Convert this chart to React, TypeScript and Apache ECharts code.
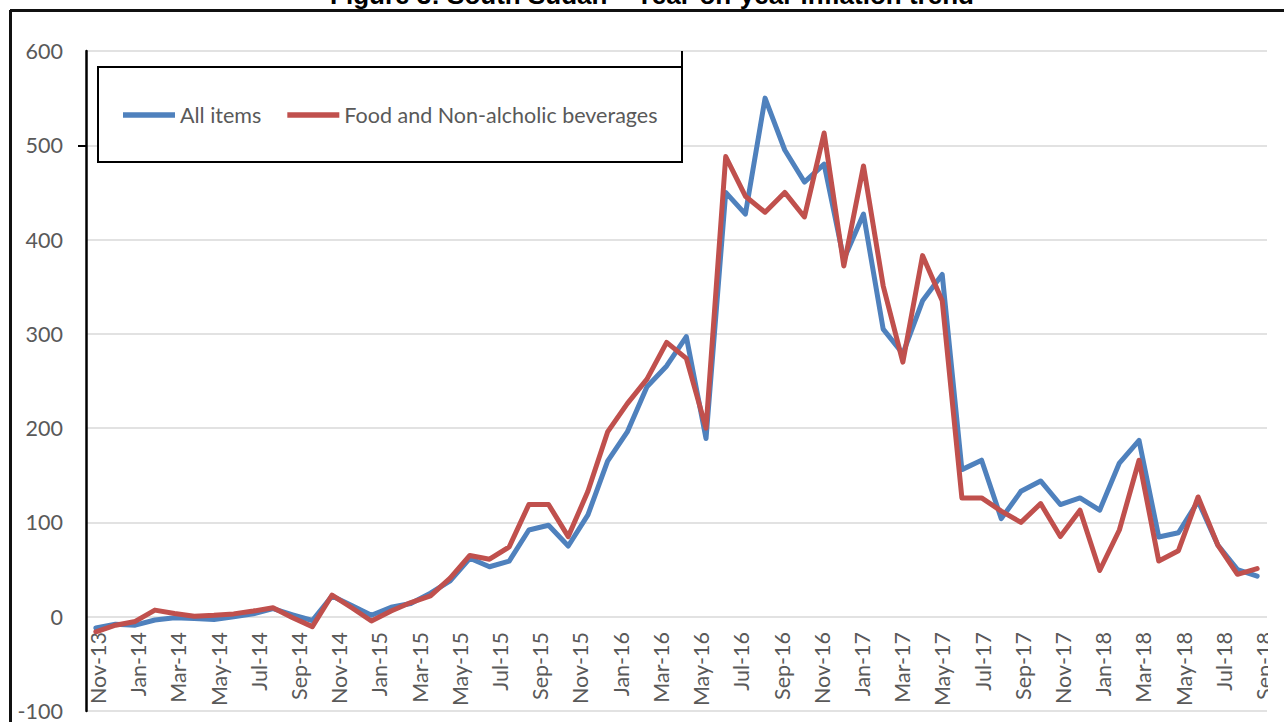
import React, { useEffect, useRef } from "react";
import * as echarts from "echarts";

const titleText = "Figure 3: South Sudan – Year-on-year inflation trend";

// Tick labels (monthly, every other one shown)
const labelMonths = [
  "Nov-13", "Dec-13", "Jan-14", "Feb-14", "Mar-14", "Apr-14", "May-14", "Jun-14", "Jul-14", "Aug-14",
  "Sep-14", "Oct-14", "Nov-14", "Dec-14", "Jan-15", "Feb-15", "Mar-15", "Apr-15", "May-15", "Jun-15",
  "Jul-15", "Aug-15", "Sep-15", "Oct-15", "Nov-15", "Dec-15", "Jan-16", "Feb-16", "Mar-16", "Apr-16",
  "May-16", "Jun-16", "Jul-16", "Aug-16", "Sep-16", "Oct-16", "Nov-16", "Dec-16", "Jan-17", "Feb-17",
  "Mar-17", "Apr-17", "May-17", "Jun-17", "Jul-17", "Aug-17", "Sep-17", "Oct-17", "Nov-17", "Dec-17",
  "Jan-18", "Feb-18", "Mar-18", "Apr-18", "May-18", "Jun-18", "Jul-18", "Aug-18", "Sep-18",
];

// Categories of the plotted points (60 points)
const dataMonths = [
  "Nov-13", "Dec-13", "Jan-14", "Feb-14", "Mar-14", "Apr-14", "May-14", "Jun-14", "Jul-14", "Aug-14",
  "Sep-14", "Oct-14", "Nov-14", "Dec-14", "Jan-15", "Feb-15", "Mar-15", "Apr-15", "May-15", "Jun-15",
  "Jul-15", "Aug-15", "Sep-15", "Oct-15", "Nov-15", "Dec-15", "Jan-16", "Feb-16", "Mar-16", "Apr-16",
  "May-16", "Jun-16", "Jul-16", "Aug-16", "Sep-16", "Oct-16", "Nov-16", "Dec-16", "Jan-17", "Feb-17",
  "Mar-17", "Apr-17", "May-17", "Jun-17", "Jul-17", "Aug-17", "Sep-17", "Oct-17", "Nov-17", "Dec-17",
  "Jan-18", "Feb-18", "Mar-18", "Apr-18", "May-18", "Jun-18", "Jul-18", "Aug-18", "Sep-18", "Oct-18",
];

const allItems = [
  -12, -8, -9, -3.5, -1, -2, -3, 0, 3, 8.5,
  2, -4, 22, 12, 1.5, 10, 14, 25, 38, 62,
  53, 59, 92, 97, 75, 108, 165, 196, 244, 266,
  297, 189, 450, 427, 550, 495, 461, 480, 379, 427,
  305, 279, 335, 363, 156, 166, 104, 133, 144, 119,
  126, 113, 163, 187, 84.5, 89, 122.5, 76, 50, 43,
];

const foodBeverages = [
  -16, -9, -5, 7, 3.5, 0.5, 1.5, 3, 6, 9.5,
  -1, -10.5, 23, 9.5, -4.5, 6, 15, 22, 41, 65,
  61, 74, 119, 119, 85, 133, 196, 226, 252, 291,
  274, 200, 488, 446, 429, 450, 424, 513, 372, 478,
  351, 270, 383, 335, 126, 126, 112, 100, 120, 85,
  113, 49, 92, 166, 59, 70, 127, 76, 45, 51,
];

const seriesNames = ["All items", "Food and Non-alcholic beverages"];
const seriesColors = ["#4f81bd", "#c0504d"];

const FONT = "Lato, 'Noto Sans', sans-serif";

export default function App() {
  const ref = useRef<HTMLDivElement>(null);

  useEffect(() => {
    if (!ref.current) return;
    const chart = echarts.init(ref.current, undefined, { renderer: "svg" });
    const option = {
      animation: false,
      backgroundColor: "#ffffff",
      grid: [
        { left: 86, right: 17, top: 51, bottom: 8 },
        { left: 88, right: 10, top: 51, bottom: 103 },
      ],
      xAxis: [
        {
          type: "category",
          gridIndex: 0,
          data: dataMonths,
          boundaryGap: true,
          axisLine: { show: false },
          axisTick: { show: false },
          axisLabel: { show: false },
          splitLine: { show: false },
        },
        {
          type: "category",
          gridIndex: 1,
          data: labelMonths,
          boundaryGap: true,
          axisLine: { show: false },
          axisTick: { show: false },
          splitLine: { show: false },
          axisLabel: {
            interval: 1,
            rotate: 90,
            margin: 13,
            color: "#595959",
            fontSize: 21.5,
            fontFamily: FONT,
          },
        },
      ],
      yAxis: [
        {
          type: "value",
          gridIndex: 0,
          min: -100,
          max: 600,
          interval: 100,
          axisLine: { show: true, lineStyle: { color: "#000000", width: 2.5 } },
          axisTick: { show: false },
          axisLabel: { color: "#595959", fontSize: 21.5, margin: 23, fontFamily: FONT },
          splitLine: { show: true, lineStyle: { color: "#d9d9d9", width: 1.5 } },
        },
        { type: "value", gridIndex: 1, min: 0, max: 1, show: false },
      ],
      legend: {
        left: 123,
        top: 104,
        padding: 0,
        z: 20,
        icon: "rect",
        itemWidth: 52,
        itemHeight: 5.5,
        itemGap: 26,
        data: seriesNames,
        textStyle: { color: "#595959", fontSize: 21.5, fontFamily: FONT },
      },
      graphic: [
        {
          type: "rect",
          z: 10,
          shape: { x: 98, y: 67, width: 584, height: 95 },
          style: { fill: "#ffffff", stroke: "#000000", lineWidth: 2 },
        },
        {
          type: "line",
          z: 10,
          shape: { x1: 682, y1: 51, x2: 682, y2: 67 },
          style: { stroke: "#000000", lineWidth: 2 },
        },
        {
          type: "line",
          z: 10,
          shape: { x1: 78, y1: 146, x2: 87, y2: 146 },
          style: { stroke: "#000000", lineWidth: 2 },
        },
        {
          type: "line",
          z: 10,
          shape: { x1: 10, y1: 10.5, x2: 1284, y2: 10.5 },
          style: { stroke: "#111111", lineWidth: 3 },
        },
        {
          type: "line",
          z: 10,
          shape: { x1: 10.5, y1: 10, x2: 10.5, y2: 722 },
          style: { stroke: "#111111", lineWidth: 3 },
        },
        {
          type: "text",
          z: 10,
          x: 652,
          y: -5,
          style: {
            text: titleText,
            fill: "#000000",
            fontSize: 26,
            fontWeight: "bold",
            fontFamily: "'Liberation Sans', Arial, sans-serif",
            align: "center",
            verticalAlign: "middle",
          },
        },
        {
          type: "rect",
          z: 50,
          shape: { x: 1268, y: 622, width: 16, height: 100 },
          style: { fill: "#ffffff" },
        },
      ],
      series: [
        {
          name: seriesNames[0],
          type: "line",
          xAxisIndex: 0,
          yAxisIndex: 0,
          data: allItems,
          showSymbol: false,
          symbol: "none",
          color: seriesColors[0],
          lineStyle: { color: seriesColors[0], width: 5, join: "round", cap: "round" },
        },
        {
          name: seriesNames[1],
          type: "line",
          xAxisIndex: 0,
          yAxisIndex: 0,
          data: foodBeverages,
          showSymbol: false,
          symbol: "none",
          color: seriesColors[1],
          lineStyle: { color: seriesColors[1], width: 5, join: "round", cap: "round" },
        },
      ],
    };
    chart.setOption(option);
    return () => {
      chart.dispose();
    };
  }, []);

  return (
    <div
      ref={ref}
      style={{ position: "absolute", left: 0, top: 0, width: 1284, height: 722 }}
    />
  );
}
